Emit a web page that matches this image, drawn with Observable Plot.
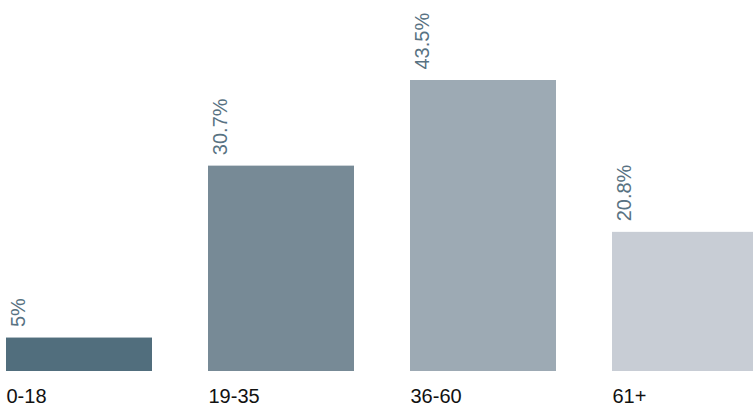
<!DOCTYPE html>
<html>
<head>
<meta charset="utf-8">
<script src="https://cdn.jsdelivr.net/npm/d3@7"></script>
<script src="https://cdn.jsdelivr.net/npm/@observablehq/plot@0.6"></script>
<style>
  html, body { margin: 0; padding: 0; background: #fff; overflow: hidden; }
  #chart svg { display: block; }
</style>
</head>
<body>
<div id="chart"></div>
<script>
const categories = ["0-18", "19-35", "36-60", "61+"];
const values = [5, 30.7, 43.5, 20.8];
const labels = ["5%", "30.7%", "43.5%", "20.8%"];
const colors = ["#516e7d", "#778a96", "#9daab4", "#c8cdd5"];

const data = categories.map((c, i) => ({category: c, value: values[i], label: labels[i], color: colors[i]}));

const chart = Plot.plot({
  width: 753,
  height: 407,
  marginTop: 80,
  marginBottom: 36,
  marginLeft: 0,
  marginRight: 0,
  style: {fontFamily: "'Liberation Sans', Arial, Helvetica, sans-serif", background: "#fff"},
  x: {domain: categories, range: [6, 758], paddingInner: 56 / 202, paddingOuter: 0, axis: null},
  y: {domain: [0, 43.5], axis: null},
  marks: [
    Plot.barY(data, {x: "category", y: "value", fill: "color"}),
    Plot.text(data, {
      x: "category", y: "value", text: "label",
      rotate: -90, textAnchor: "start", lineAnchor: "bottom",
      dx: -55, dy: -11, fontSize: 20, fill: "#587282"
    }),
    Plot.axisX({
      tickSize: 0, tickPadding: 17, textAnchor: "start", dx: -73,
      fontSize: 20, color: "#111", label: null
    })
  ]
});
document.getElementById("chart").appendChild(chart);
</script>
</body>
</html>
